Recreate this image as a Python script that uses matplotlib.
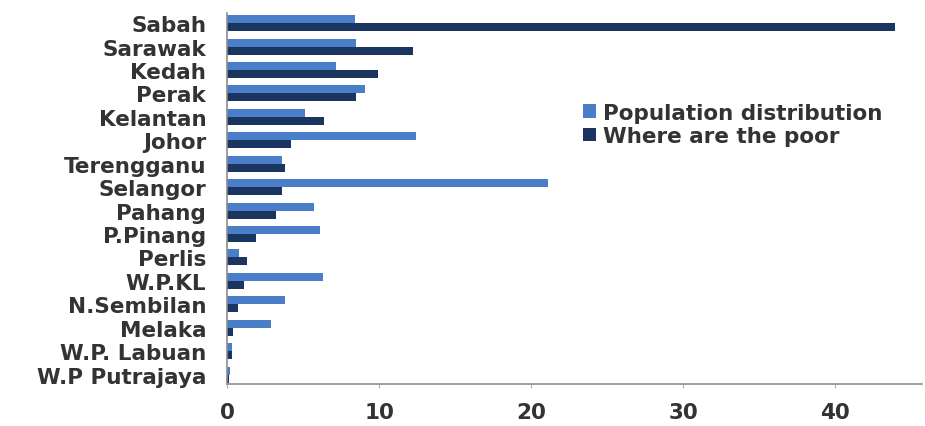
import matplotlib
matplotlib.use("Agg")
import matplotlib.pyplot as plt
import numpy as np

states = ["Sabah", "Sarawak", "Kedah", "Perak", "Kelantan", "Johor", "Terengganu",
          "Selangor", "Pahang", "P.Pinang", "Perlis", "W.P.KL", "N.Sembilan",
          "Melaka", "W.P. Labuan", "W.P Putrajaya"]
population = [8.4, 8.5, 7.2, 9.1, 5.1, 12.4, 3.6, 21.1, 5.7, 6.1, 0.8, 6.3, 3.8, 2.9, 0.3, 0.2]
poor = [43.9, 12.2, 9.9, 8.5, 6.4, 4.2, 3.8, 3.6, 3.2, 1.9, 1.3, 1.1, 0.7, 0.4, 0.3, 0.1]
series_names = ["Population distribution", "Where are the poor"]
x_ticks = [0, 10, 20, 30, 40]

c_pop = "#4A7EC8"
c_poor = "#1B3561"
text_color = "#333333"

plt.rcParams["font.family"] = ["DejaVu Sans"]
fs = 15.5
fw = "bold"

fig = plt.figure(figsize=(9.25, 4.27), dpi=100)
ax = fig.add_axes([0.2454, 0.0984, 0.7514, 0.8686])

y = np.arange(len(states))
h = 0.34
ax.barh(y - h / 2, population, height=h, color=c_pop, label=series_names[0])
ax.barh(y + h / 2, poor, height=h, color=c_poor, label=series_names[1])

ax.set_xlim(0, 45.7)
ax.set_ylim(15.4, -0.43)
ax.set_yticks(y)
ax.set_yticklabels(states, fontsize=fs, fontweight=fw, color=text_color)
ax.set_xticks(x_ticks)
ax.set_xticklabels([str(t) for t in x_ticks], fontsize=fs, fontweight=fw, color=text_color)
ax.tick_params(axis="y", length=0, pad=15)
ax.tick_params(axis="x", length=3, color="#b0b0b0", pad=10)

for side in ("top", "right"):
    ax.spines[side].set_visible(False)
for side in ("left", "bottom"):
    ax.spines[side].set_color("#8c8c8c")
    ax.spines[side].set_linewidth(1.2)

leg = fig.legend(loc="upper left", bbox_to_anchor=(572 / 925, 1 - 93 / 427),
                 frameon=False, prop={"size": fs, "weight": fw},
                 handlelength=0.6, handleheight=0.6,
                 handletextpad=0.35, labelspacing=0.15, borderpad=0)
for t in leg.get_texts():
    t.set_color(text_color)

fig.savefig("out.png", dpi=100, facecolor="white")
